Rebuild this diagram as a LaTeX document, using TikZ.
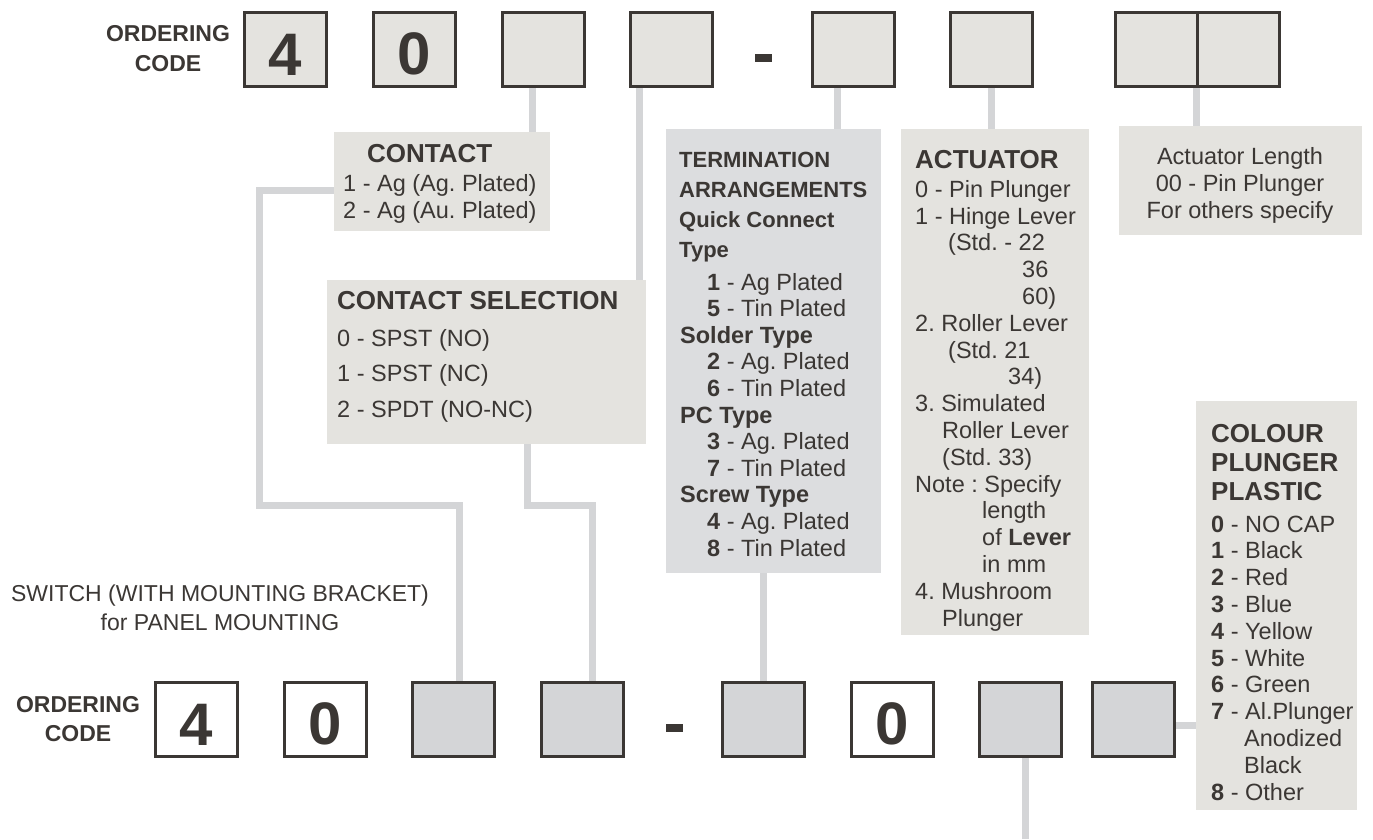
\documentclass[tikz,border=0pt]{standalone}
\usepackage{fontspec}
\setmainfont{Liberation Sans}
\usetikzlibrary{backgrounds}
\frenchspacing

\definecolor{ink}{HTML}{3B3734}
\definecolor{panel}{HTML}{E4E3DF}
\definecolor{panelcool}{HTML}{DCDDDF}
\definecolor{wire}{HTML}{D4D5D7}

\newcommand{\setfs}[2]{\fontsize{#1}{#2}\selectfont}

\begin{document}
\begin{tikzpicture}[x=1pt,y=-1pt,
    digit/.style={draw=ink, line width=3pt, minimum width=82pt, minimum height=74pt,
      inner sep=0pt, text height=51pt, text=ink, font=\setfs{60}{60}\bfseries},
    topbox/.style={digit, fill=panel},
    whitebox/.style={digit, fill=white},
    graybox/.style={digit, fill=wire},
    card/.style={fill=panel, anchor=north west, inner sep=0pt},
    txt/.style={anchor=base west, align=left, inner sep=0pt, text=ink, font=\setfs{23.5}{26.8}},
    head/.style={txt, font=\setfs{26}{29}\bfseries},
    wirepath/.style={draw=wire, line width=7pt}]

    \useasboundingbox (0,0) rectangle (1373,839);

    % Codigo de pedido arriba (base = ultima linea)
    \node[anchor=base, align=center, inner sep=0pt, text=ink, font=\setfs{23}{30}\bfseries] (ordtop) at (168,71) {ORDERING\\CODE};
    \node[topbox] (t1) at (285.5,49.5) {4};
    \node[topbox] (t2) at (414,49.5) {0};
    \node[topbox] (t3) at (543,49.5) {};
    \node[topbox] (t4) at (671,49.5) {};
    \node[fill=ink, inner sep=0pt, minimum width=17pt, minimum height=8pt] (dtop) at (763.5,58) {};
    \node[topbox] (t5) at (853,49.5) {};
    \node[topbox] (t6) at (991,49.5) {};
    \node[topbox] (t7a) at (1156.5,49.5) {};
    \node[topbox] (t7b) at (1238.5,49.5) {};

    % Cuadros de opciones
    \node[card, minimum width=216pt, minimum height=99pt] (contact) at (334,132) {};
    \node[head] (contacthd) at (367,162) {CONTACT};
    \node[txt, font=\setfs{23.5}{27}] (contactls) at (343,218) {1 - Ag (Ag. Plated)\\2 - Ag (Au. Plated)};

    \node[card, minimum width=319pt, minimum height=164pt] (sel) at (327,280) {};
    \node[head] (selhd) at (337,309) {CONTACT SELECTION};
    \node[txt, font=\setfs{23.5}{35.5}] (sells) at (337,417) {0 - SPST (NO)\\1 - SPST (NC)\\2 - SPDT (NO-NC)};

    \node[card, fill=panelcool, minimum width=215pt, minimum height=444pt] (term) at (666,129) {};
    \node[txt, font=\setfs{22}{30}\bfseries] (termhd) at (679,257) {TERMINATION\\ARRANGEMENTS\\Quick Connect\\Type};
    \node[txt, font=\setfs{23.5}{26.6}] (termls) at (680,556) {%
      \hspace*{27pt}\textbf{1} - Ag Plated\\
      \hspace*{27pt}\textbf{5} - Tin Plated\\
      \textbf{Solder Type}\\
      \hspace*{27pt}\textbf{2} - Ag. Plated\\
      \hspace*{27pt}\textbf{6} - Tin Plated\\
      \textbf{PC Type}\\
      \hspace*{27pt}\textbf{3} - Ag. Plated\\
      \hspace*{27pt}\textbf{7} - Tin Plated\\
      \textbf{Screw Type}\\
      \hspace*{27pt}\textbf{4} - Ag. Plated\\
      \hspace*{27pt}\textbf{8} - Tin Plated};

    \node[card, minimum width=188pt, minimum height=506pt] (act) at (901,129) {};
    \node[head] (acthd) at (915,168) {ACTUATOR};
    \node[txt] (actls) at (915,626) {%
      0 - Pin Plunger\\
      1 - Hinge Lever\\
      \hspace*{33pt}(Std. - 22\\
      \hspace*{107pt}36\\
      \hspace*{107pt}60)\\
      2. Roller Lever\\
      \hspace*{33pt}(Std. 21\\
      \hspace*{93pt}34)\\
      3. Simulated\\
      \hspace*{27pt}Roller Lever\\
      \hspace*{27pt}(Std. 33)\\
      Note : Specify\\
      \hspace*{67pt}length\\
      \hspace*{67pt}of \textbf{Lever}\\
      \hspace*{67pt}in mm\\
      4. Mushroom\\
      \hspace*{27pt}Plunger};

    \node[card, minimum width=243pt, minimum height=109pt] (len) at (1119,126) {};
    \node[txt, anchor=base, align=center, font=\setfs{23.5}{27}] (lenls) at (1240,218) {Actuator Length\\00 - Pin Plunger\\For others specify};

    \node[card, minimum width=161pt, minimum height=409pt] (colour) at (1196,401) {};
    \node[head] (colourhd) at (1211,500) {COLOUR\\PLUNGER\\PLASTIC};
    \node[txt] (colourls) at (1211,800) {%
      \textbf{0} - NO CAP\\
      \textbf{1} - Black\\
      \textbf{2} - Red\\
      \textbf{3} - Blue\\
      \textbf{4} - Yellow\\
      \textbf{5} - White\\
      \textbf{6} - Green\\
      \textbf{7} - Al.Plunger\\
      \hspace*{33pt}Anodized\\
      \hspace*{33pt}Black\\
      \textbf{8} - Other};

    % Version para montaje en panel
    \node[txt, anchor=base, align=center, font=\setfs{23}{29}] (switch) at (220,630) {SWITCH (WITH MOUNTING BRACKET)\\for PANEL MOUNTING};
    \node[anchor=base, align=center, inner sep=0pt, text=ink, font=\setfs{23}{29}\bfseries] (ordbot) at (78,741) {ORDERING\\CODE};
    \node[whitebox] (b1) at (196,719.5) {4};
    \node[whitebox] (b2) at (325,719.5) {0};
    \node[graybox] (b3) at (453.5,719.5) {};
    \node[graybox] (b4) at (582,719.5) {};
    \node[fill=ink, inner sep=0pt, minimum width=17pt, minimum height=8pt] (dbot) at (674.5,728) {};
    \node[graybox] (b5) at (763.5,719.5) {};
    \node[whitebox] (b6) at (892,719.5) {0};
    \node[graybox] (b7) at (1020.5,719.5) {};
    \node[graybox] (b8) at (1133.5,719.5) {};

    % Lineas de union
    \coordinate (elbowa) at (259,505);
    \coordinate (elbowb) at (592,505);
    \coordinate (tail) at (1025,839);
    \begin{scope}[on background layer]
      \draw[wirepath] (t3.south) ++(-11,0) coordinate (w3) -- (w3 |- contact.north);
      \draw[wirepath] (t4.south) ++(-32,0) coordinate (w4) -- (w4 |- sel.north);
      \draw[wirepath] (t5.south) ++(-16,0) coordinate (w5) -- (w5 |- term.north);
      \draw[wirepath] (t6.south) -- (t6.south |- act.north);
      \draw[wirepath] (t7a.south east) ++(-3,0) coordinate (w7) -- (w7 |- len.north);
      \draw[wirepath] (contact.west) ++(0,8.5) coordinate (wc) -| (elbowa) -| ([xshift=6pt]b3.north);
      \draw[wirepath] (sel.south) ++(40.5,0) coordinate (ws) |- (elbowb) -- (elbowb |- b4.north);
      \draw[wirepath] (term.south -| b5.north) -- (b5.north);
      \draw[wirepath] (b8.east) ++(0,5.5) coordinate (wb) -- (wb -| colour.west);
      \draw[wirepath] (b7.south) ++(4.5,0) coordinate (wt) -- (tail);
    \end{scope}
\end{tikzpicture}
\end{document}
